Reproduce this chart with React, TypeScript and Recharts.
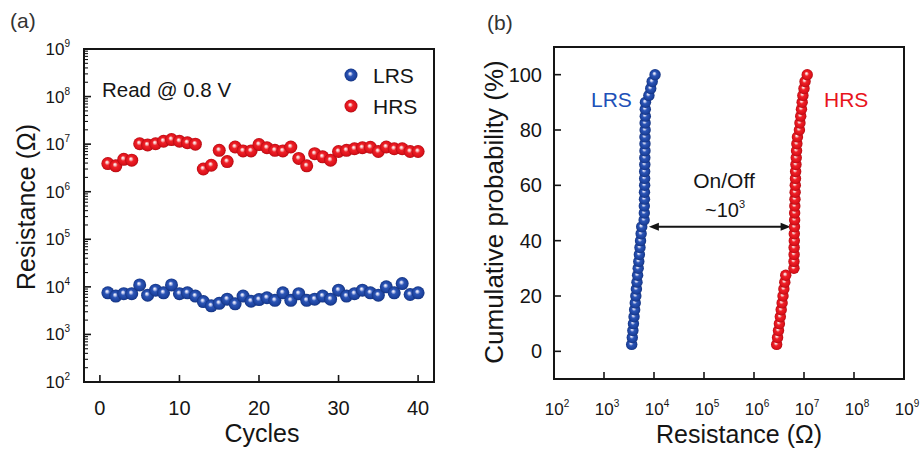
import React from 'react';
import { ScatterChart, Scatter, XAxis, YAxis, ReferenceArea, ReferenceLine } from 'recharts';

// ---------- Data ----------
const cycles = [1, 2, 3, 4, 5, 6, 7, 8, 9, 10, 11, 12, 13, 14, 15, 16, 17, 18, 19, 20,
  21, 22, 23, 24, 25, 26, 27, 28, 29, 30, 31, 32, 33, 34, 35, 36, 37, 38, 39, 40];
const lrsResistance = [7.5e3, 6.4e3, 7.2e3, 7.2e3, 1.1e4, 6.7e3, 8.5e3, 7.5e3, 1.1e4, 7.2e3,
  7.5e3, 6.4e3, 4.9e3, 4.0e3, 4.5e3, 5.5e3, 4.4e3, 6.4e3, 5.0e3, 5.4e3,
  5.9e3, 5.2e3, 7.5e3, 5.2e3, 7.2e3, 5.2e3, 5.5e3, 6.4e3, 5.5e3, 8.5e3,
  6.4e3, 7.2e3, 8.5e3, 7.5e3, 6.7e3, 1.0e4, 7.5e3, 1.17e4, 6.9e3, 7.5e3];
const hrsResistance = [3.9e6, 3.5e6, 4.8e6, 4.6e6, 1.02e7, 9.6e6, 1.02e7, 1.15e7, 1.25e7, 1.15e7,
  1.07e7, 1.0e7, 3.0e6, 3.6e6, 7.4e6, 4.3e6, 8.7e6, 7.2e6, 7.2e6, 9.8e6,
  8.4e6, 7.4e6, 7.2e6, 8.7e6, 5.0e6, 3.5e6, 6.3e6, 5.4e6, 4.6e6, 7.0e6,
  7.4e6, 8.0e6, 8.4e6, 8.6e6, 7.0e6, 8.7e6, 8.0e6, 8.0e6, 7.0e6, 7.0e6];

const cumulativeProb = [2.5, 5, 7.5, 10, 12.5, 15, 17.5, 20, 22.5, 25, 27.5, 30, 32.5, 35, 37.5, 40,
  42.5, 45, 47.5, 50, 52.5, 55, 57.5, 60, 62.5, 65, 67.5, 70, 72.5, 75, 77.5, 80, 82.5, 85,
  87.5, 90, 92.5, 95, 97.5, 100];
const lrsDistribution = [3.58e3, 3.68e3, 3.78e3, 3.88e3, 3.99e3, 4.1e3, 4.22e3, 4.33e3, 4.45e3, 4.57e3,
  4.7e3, 4.83e3, 4.96e3, 5.1e3, 5.24e3, 5.38e3, 5.53e3, 5.68e3,
  6.35e3, 6.4e3, 6.4e3, 6.45e3, 6.45e3, 6.5e3, 6.5e3, 6.5e3, 6.55e3, 6.55e3, 6.6e3, 6.6e3,
  6.6e3, 6.65e3, 6.65e3, 6.7e3, 6.7e3, 6.75e3,
  7.9e3, 8.6e3, 9.2e3, 1.05e4];
const hrsDistribution = [2.84e6, 2.96e6, 3.09e6, 3.22e6, 3.36e6, 3.5e6, 3.65e6, 3.8e6, 3.96e6, 4.13e6, 4.31e6,
  6.3e6, 6.3e6, 6.35e6, 6.35e6, 6.4e6, 6.4e6, 6.45e6, 6.5e6, 6.5e6, 6.55e6, 6.6e6, 6.65e6, 6.7e6,
  6.75e6, 6.8e6, 6.9e6, 7.0e6, 7.1e6, 7.2e6, 7.4e6,
  8.1e6, 8.3e6, 8.6e6, 8.9e6, 9.2e6, 9.5e6, 1.0e7, 1.05e7, 1.16e7];

const cycleTicks = [0, 10, 20, 30, 40];
const decadeTicks = [1e2, 1e3, 1e4, 1e5, 1e6, 1e7, 1e8, 1e9];
const probTicks = [0, 20, 40, 60, 80, 100];
const onOffRead = { lrs: 7.9e3, hrs: 5.4e6, prob: 45 };

// ---------- Derived tables ----------
const cycleLrs = cycles.map((c, i) => ({ x: c, y: lrsResistance[i] }));
const cycleHrs = cycles.map((c, i) => ({ x: c, y: hrsResistance[i] }));
const distLrs = cumulativeProb.map((p, i) => ({ x: lrsDistribution[i], y: p }));
const distHrs = cumulativeProb.map((p, i) => ({ x: hrsDistribution[i], y: p }));
const minorTicks = decadeTicks.slice(0, -1).flatMap((d) => [2, 3, 4, 5, 6, 7, 8, 9].map((k) => k * d));
const yTicksA = [...decadeTicks, ...minorTicks].sort((a, b) => a - b);

const FONT = '"Liberation Sans", Arial, Helvetica, sans-serif';
const INK = '#151515';
const BLUE_TXT = '#2050b8';
const RED_TXT = '#e8141c';

const isDecade = (v: number) => {
  const e = Math.round(Math.log10(v));
  return Math.abs(v - Math.pow(10, e)) < 1e-6 * v;
};

// Tick renderers: props.x / props.y sit exactly on the axis line (tickSize = tickMargin = 0)
const YTickA = (props: any) => {
  const { x, y, payload } = props;
  const v = payload.value;
  const major = isDecade(v);
  const e = Math.round(Math.log10(v));
  return (
    <g>
      <line x1={x} y1={y} x2={x + (major ? 7 : 4)} y2={y} stroke={INK} strokeWidth={major ? 1.6 : 1.1} />
      {major && (
        <text x={x - 14} y={y + 6} textAnchor="end" fontSize={17} fill={INK} fontFamily={FONT}>
          <tspan>10</tspan>
          <tspan dy={-8} fontSize={10}>{e}</tspan>
        </text>
      )}
    </g>
  );
};

const XTickA = (props: any) => {
  const { x, y, payload } = props;
  return (
    <g>
      <line x1={x} y1={y} x2={x} y2={y - 7} stroke={INK} strokeWidth={1.6} />
      <text x={x} y={y + 33} textAnchor="middle" fontSize={20} fill={INK} fontFamily={FONT}>{payload.value}</text>
    </g>
  );
};

const YTickB = (props: any) => {
  const { x, y, payload } = props;
  return (
    <g>
      <line x1={x} y1={y} x2={x + 7} y2={y} stroke={INK} strokeWidth={1.6} />
      <text x={x - 12} y={y + 7} textAnchor="end" fontSize={20} fill={INK} fontFamily={FONT}>{payload.value}</text>
    </g>
  );
};

const XTickB = (props: any) => {
  const { x, y, payload } = props;
  const e = Math.round(Math.log10(payload.value));
  return (
    <g>
      <line x1={x} y1={y} x2={x} y2={y - 7} stroke={INK} strokeWidth={1.6} />
      <text x={x + 3} y={y + 36} textAnchor="middle" fontSize={17} fill={INK} fontFamily={FONT}>
        <tspan>10</tspan>
        <tspan dy={-8} fontSize={10}>{e}</tspan>
      </text>
    </g>
  );
};

const ball = (fill: string, r: number) => (p: any) => (
  <circle cx={p.cx} cy={p.cy} r={r} fill={fill} />
);

const ArrowShape = (p: any) => {
  const { x1, y1, x2 } = p;
  const left = Math.min(x1, x2);
  const right = Math.max(x1, x2);
  const y = y1;
  return (
    <g>
      <line x1={left + 8} y1={y} x2={right - 8} y2={y} stroke={INK} strokeWidth={2} />
      <polygon points={`${left},${y} ${left + 10},${y - 4} ${left + 10},${y + 4}`} fill={INK} />
      <polygon points={`${right},${y} ${right - 10},${y - 4} ${right - 10},${y + 4}`} fill={INK} />
    </g>
  );
};

export default function App() {
  return (
    <div style={{ position: 'absolute', left: 0, top: 0, width: 921, height: 449, background: '#fff', overflow: 'hidden' }}>
      <div style={{ position: 'absolute', left: 0, top: 0 }}>
        <ScatterChart width={460} height={449} margin={{ top: 49, right: 26, bottom: 27, left: 24 }}>
          <XAxis type="number" dataKey="x" domain={[-2, 42]} ticks={cycleTicks} interval={0}
            height={40} tickSize={0} tickMargin={0} axisLine={false} tickLine={false} tick={<XTickA />} allowDataOverflow />
          <YAxis type="number" dataKey="y" scale="log" domain={[1e2, 1e9]} ticks={yTicksA} interval={0}
            width={60} tickSize={0} tickMargin={0} axisLine={false} tickLine={false} tick={<YTickA />} allowDataOverflow />
          <ReferenceArea x1={-2} x2={42} y1={1e2} y2={1e9} fill="none" fillOpacity={0} stroke={INK} strokeWidth={2} ifOverflow="visible" />
          <Scatter data={cycleLrs} shape={ball('url(#ballBlue)', 6.5)} isAnimationActive={false} />
          <Scatter data={cycleHrs} shape={ball('url(#ballRed)', 6.5)} isAnimationActive={false} />
        </ScatterChart>
      </div>
      <div style={{ position: 'absolute', left: 460, top: 0 }}>
        <ScatterChart width={461} height={449} margin={{ top: 47, right: 17, bottom: 30, left: 34 }}>
          <XAxis type="number" dataKey="x" scale="log" domain={[1e2, 1e9]} ticks={decadeTicks} interval={0}
            height={40} tickSize={0} tickMargin={0} axisLine={false} tickLine={false} tick={<XTickB />} allowDataOverflow />
          <YAxis type="number" dataKey="y" domain={[-10, 110]} ticks={probTicks} interval={0}
            width={60} tickSize={0} tickMargin={0} axisLine={false} tickLine={false} tick={<YTickB />} allowDataOverflow />
          <ReferenceArea x1={1e2} x2={1e9} y1={-10} y2={110} fill="none" fillOpacity={0} stroke={INK} strokeWidth={2} ifOverflow="visible" />
          <ReferenceLine segment={[{ x: onOffRead.lrs, y: onOffRead.prob }, { x: onOffRead.hrs, y: onOffRead.prob }]}
            shape={ArrowShape} ifOverflow="visible" />
          <Scatter data={distLrs} shape={ball('url(#ballBlue)', 5.7)} isAnimationActive={false} />
          <Scatter data={distHrs} shape={ball('url(#ballRed)', 5.7)} isAnimationActive={false} />
        </ScatterChart>
      </div>
      <svg width={921} height={449} style={{ position: 'absolute', left: 0, top: 0, pointerEvents: 'none' }}
        fontFamily={FONT}>
        <defs>
          <radialGradient id="ballBlue" cx="50%" cy="50%" r="50%" fx="42%" fy="38%">
            <stop offset="0%" stopColor="#ffffff" />
            <stop offset="18%" stopColor="#b9c3ec" />
            <stop offset="40%" stopColor="#2c55b5" />
            <stop offset="80%" stopColor="#1c429e" />
            <stop offset="100%" stopColor="#14337f" />
          </radialGradient>
          <radialGradient id="ballRed" cx="50%" cy="50%" r="50%" fx="42%" fy="38%">
            <stop offset="0%" stopColor="#ffffff" />
            <stop offset="18%" stopColor="#f7b9b9" />
            <stop offset="40%" stopColor="#ee2128" />
            <stop offset="80%" stopColor="#dd111a" />
            <stop offset="100%" stopColor="#b00c12" />
          </radialGradient>
        </defs>
        {/* panel tags */}
        <text x={10} y={28} fontSize={21} fill="#333">(a)</text>
        <text x={487} y={30} fontSize={21} fill="#333">(b)</text>
        {/* panel a texts */}
        <text x={35} y={207} fontSize={25} fill={INK} textAnchor="middle" transform="rotate(-90 35 207)">Resistance (Ω)</text>
        <text x={262} y={442} fontSize={25} fill={INK} textAnchor="middle">Cycles</text>
        <text x={102} y={97} fontSize={20.5} fill={INK}>Read @ 0.8 V</text>
        <circle cx={351} cy={75} r={6.5} fill="url(#ballBlue)" />
        <text x={373} y={83} fontSize={21} fill={INK}>LRS</text>
        <circle cx={351} cy={106} r={6.5} fill="url(#ballRed)" />
        <text x={373} y={114} fontSize={21} fill={INK}>HRS</text>
        {/* panel b texts */}
        <text x={503} y={212} fontSize={26} fill={INK} textAnchor="middle" transform="rotate(-90 503 212)">Cumulative probability (%)</text>
        <text x={739} y={443} fontSize={25} fill={INK} textAnchor="middle">Resistance (Ω)</text>
        <text x={591} y={107} fontSize={21} fill={BLUE_TXT}>LRS</text>
        <text x={824} y={107} fontSize={21} fill={RED_TXT}>HRS</text>
        <text x={724} y={188} fontSize={21} fill={INK} textAnchor="middle">On/Off</text>
        <text x={725} y={217} fontSize={20} fill={INK} textAnchor="middle">
          <tspan>~10</tspan>
          <tspan dy={-9} fontSize={11}>3</tspan>
        </text>
      </svg>
    </div>
  );
}
